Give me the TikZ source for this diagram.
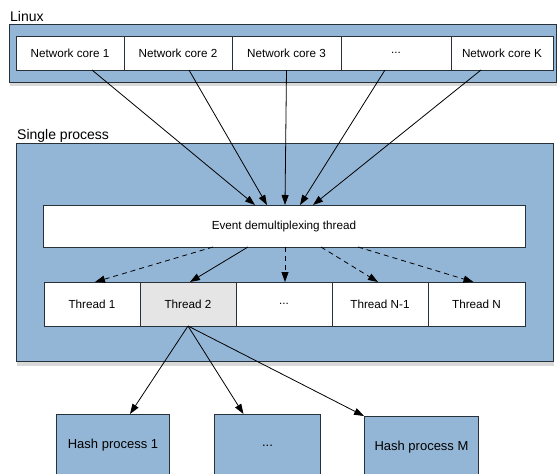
\documentclass[tikz,border=0pt]{standalone}
\usepackage{fontspec}
\setmainfont{Liberation Sans}
\usetikzlibrary{positioning, arrows.meta, shadows}
\definecolor{boxblue}{RGB}{148,182,214}
\definecolor{boxedge}{RGB}{40,48,58}
\definecolor{threadgray}{RGB}{229,229,229}
\tikzstyle{container} = [rectangle, draw=boxedge, fill=boxblue, line width=1pt, inner sep=0pt, drop shadow={shadow xshift=0.5pt, shadow yshift=-4pt, opacity=0.3}]
\tikzstyle{cell} = [rectangle, draw=boxedge, fill=white, line width=0.8pt, inner sep=0pt, outer sep=0pt, text centered, font=\fontsize{11.7}{13}\selectfont]
\tikzstyle{hashbox} = [container, anchor=north west, minimum height=62pt, font=\fontsize{13}{15}\selectfont]
\tikzstyle{boxtitle} = [anchor=base west, inner sep=0pt, font=\fontsize{14}{16}\selectfont]
\tikzstyle{arrow} = [line width=0.8pt, -{Triangle[length=10pt, width=7pt]}]
\tikzstyle{dasharrow} = [arrow, dash pattern=on 5pt off 4pt]

\begin{document}
\begin{tikzpicture}[x=1pt, y=1pt, node distance=0pt]
        \useasboundingbox (0,0) rectangle (558,-474);

        \node (linuxtitle) [boxtitle] at (10,-21) {Linux};
        \node (linux) [container, anchor=north west, minimum width=547pt, minimum height=58pt] at (8.5,-23.5) {};
        \node (core1) [cell, anchor=north west, minimum width=108pt, minimum height=34pt] at (16,-36) {Network core 1};
        \node (core2) [cell, right=of core1, minimum width=108pt, minimum height=34pt] {Network core 2};
        \node (core3) [cell, right=of core2, minimum width=109pt, minimum height=34pt] {Network core 3};
        \node (coredots) [cell, right=of core3, minimum width=110pt, minimum height=34pt] {...};
        \node (coreK) [cell, right=of coredots, minimum width=102pt, minimum height=34pt] {Network core K};

        \node (singletitle) [boxtitle] at (17,-139) {Single process};
        \node (single) [container, anchor=north west, minimum width=537pt, minimum height=218pt] at (16,-143) {};
        \node (demux) [cell, anchor=north west, minimum width=482pt, minimum height=42pt] at (43,-205) {Event demultiplexing thread};
        \node (thread1) [cell, anchor=north west, minimum width=96pt, minimum height=44pt] at (44,-282) {Thread 1};
        \node (thread2) [cell, right=of thread1, fill=threadgray, minimum width=96pt, minimum height=44pt] {Thread 2};
        \node (threaddots) [cell, right=of thread2, minimum width=96pt, minimum height=44pt] {...};
        \node (threadN1) [cell, right=of threaddots, minimum width=96pt, minimum height=44pt] {Thread N-1};
        \node (threadN) [cell, right=of threadN1, minimum width=97pt, minimum height=44pt] {Thread N};

        \node (hash1) [hashbox, minimum width=113pt] at (56,-414) {Hash process 1};
        \node (hashdots) [hashbox, minimum width=106pt] at (214,-414) {...};
        \node (hashM) [hashbox, minimum width=114pt] at (364,-416) {Hash process M};

        \draw [arrow] ([xshift=22pt]core1.south) -- ([xshift=-29pt]demux.north);
        \draw [arrow] ([xshift=11pt]core2.south) -- ([xshift=-17pt]demux.north);
        \draw [arrow] (core3.south) -- ([xshift=1pt]demux.north);
        \draw [arrow] ([xshift=-11pt]coredots.south) -- ([xshift=16pt]demux.north);
        \draw [arrow] ([xshift=-21pt]coreK.south) -- ([xshift=29pt]demux.north);

        \draw [dasharrow] ([xshift=-71pt]demux.south) -- ([xshift=3pt]thread1.north);
        \draw [arrow] ([xshift=-36pt]demux.south) -- ([xshift=2pt]thread2.north);
        \draw [dasharrow] ([xshift=1pt]demux.south) -- ([xshift=1pt]threaddots.north);
        \draw [dasharrow] ([xshift=37pt]demux.south) -- ([xshift=-2pt]threadN1.north);
        \draw [dasharrow] ([xshift=74pt]demux.south) -- ([xshift=-3pt]threadN.north);

        \draw [arrow] (thread2.south) -- ([xshift=17pt]hash1.north);
        \draw [arrow] (thread2.south) -- ([xshift=-24pt]hashdots.north);
        \draw [arrow] (thread2.south) -- (hashM.north west);
\end{tikzpicture}
\end{document}
